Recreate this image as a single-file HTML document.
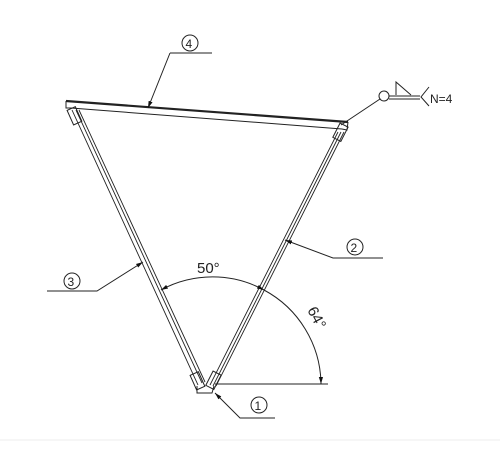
<!DOCTYPE html>
<html><head><meta charset="utf-8"><style>body{margin:0;background:#fff}svg{display:block}text{font-family:"Liberation Sans",sans-serif;fill:#222}</style></head><body>
<svg width="500" height="449" viewBox="0 0 500 449" stroke="#222" fill="none" stroke-width="1">
<defs><marker id="ar" viewBox="0 0 10 10" refX="10" refY="5" markerWidth="7" markerHeight="7" orient="auto-start-reverse"><path d="M0,2 L10,5 L0,8z" fill="#111" stroke="none"/></marker></defs>
<g>
<path d="M66,101 L348,122" stroke-width="2.2"/>
<path d="M71,108 L342,129"/>
<path d="M66,101 L66,108 L71,108 M348,122 L347,130 L342,129"/>
</g>
<g>
<path d="M72,110 L198,385 M76,110 L202,383 M79,110 L205,382" stroke-width="0.9"/>
<rect x="70" y="108" width="9" height="16" transform="rotate(-24 74 116)"/>
<rect x="193" y="373" width="9" height="16" transform="rotate(-24 197 381)"/>
</g>
<g>
<path d="M338,132 L210,385 M341,132 L213,386 M344,132 L216,386" stroke-width="0.9"/>
<rect x="336" y="124" width="9" height="16" transform="rotate(27 340 132)"/>
<rect x="209" y="372" width="9" height="16" transform="rotate(27 213 380)"/>
</g>
<path d="M197,386 L197,393 L212,393 L214,386" />
<g>
<path d="M215,384 L328,384"/>
<path d="M161,290 A108,108 0 0 1 264,290" marker-start="url(#ar)" marker-end="url(#ar)"/>
<path d="M264,290 A108,108 0 0 1 321,384" marker-end="url(#ar)"/>
<text x="197" y="273" font-size="15" stroke="none">50°</text>
<text x="0" y="0" font-size="15" stroke="none" transform="translate(307,310) rotate(62)">64°</text>
</g>
<g>
<circle cx="190" cy="43" r="8"/><text x="185.5" y="48" font-size="12" stroke="none">4</text>
<path d="M170,53 L212,53 M170,53 L148,108" marker-end="url(#ar)"/>
</g>
<g>
<circle cx="72" cy="281" r="8"/><text x="67.5" y="286" font-size="12" stroke="none">3</text>
<path d="M47,291 L97,291 L143,262" marker-end="url(#ar)"/>
</g>
<g>
<circle cx="355" cy="247" r="8"/><text x="350.5" y="252" font-size="12" stroke="none">2</text>
<path d="M383,258 L333,258 L285,240" marker-end="url(#ar)"/>
</g>
<g>
<circle cx="259" cy="405" r="8"/><text x="254.5" y="410" font-size="12" stroke="none">1</text>
<path d="M275,418 L240,418 L215,393" marker-end="url(#ar)"/>
</g>
<g>
<path d="M341,125 L380,99"/>
<circle cx="384" cy="96" r="5"/>
<path d="M389,96 L420,96 M389,99 L420,99"/>
<path d="M396,95 L396,82 L411,95"/>
<path d="M429,87 L421,97 L429,106"/>
<text x="430" y="103" font-size="12" stroke="none">N=4</text>
</g>
<path d="M0,440 L500,440" stroke="#eee"/>
</svg>
</body></html>
